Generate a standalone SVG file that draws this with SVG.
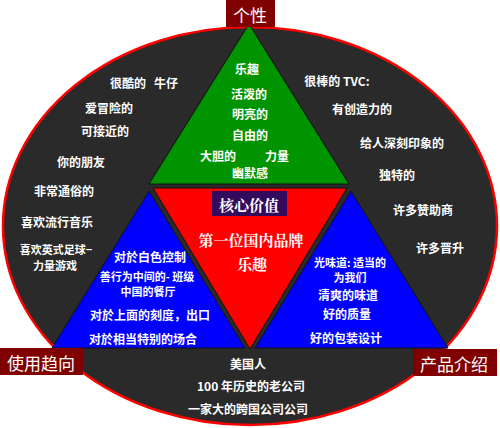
<svg xmlns="http://www.w3.org/2000/svg" width="500" height="428" viewBox="0 0 500 428">
<style>
.t{font-family:"Noto Sans CJK SC","Liberation Sans",sans-serif;font-size:12px;font-weight:bold;fill:#fff;text-anchor:middle;dominant-baseline:central}
.s{font-size:11px}
.lb{font-family:"Noto Sans CJK SC","Liberation Sans",sans-serif;font-size:17px;fill:#fff;text-anchor:middle;dominant-baseline:central}
.core{font-family:"Noto Serif CJK SC","Noto Sans CJK SC","Liberation Serif",serif;font-size:15px;font-weight:bold;fill:#fff;text-anchor:middle;dominant-baseline:central}
.tri{stroke:#111;stroke-width:1}
.box{fill:#800000}
</style>
<rect width="500" height="428" fill="#fff"/>
<g id="ellipse">
<ellipse cx="250" cy="226" rx="247" ry="199" fill="#2a2a2a" stroke="#f00" stroke-width="2.5"/>
</g>
<g id="green">
<polygon class="tri" points="249,24 149,184 349,184" fill="#009400"/>
<text class="t" x="247" y="68">乐趣</text>
<text class="t" x="249" y="93">活泼的</text>
<text class="t" x="250" y="113">明亮的</text>
<text class="t" x="250" y="134">自由的</text>
<text class="t" x="218" y="155">大胆的</text>
<text class="t" x="277" y="155">力量</text>
<text class="t" x="250" y="172">幽默感</text>
</g>
<g id="core">
<polygon class="tri" points="153,188 347,188 250,349" fill="#f00"/>
<rect x="212" y="191" width="75" height="25" fill="#330a5c"/>
<text class="core" x="249" y="204">核心价值</text>
<text class="core" x="251" y="239">第一位国内品牌</text>
<text class="core" x="252" y="263">乐趣</text>
</g>
<g id="usage">
<polygon class="tri" points="149,191 245,348 52,348" fill="#00f"/>
<text class="t" x="150" y="256">对於白色控制</text>
<text class="t s" x="147" y="276">善行为中间的- 班级</text>
<text class="t s" x="148" y="291">中国的餐厅</text>
<text class="t" x="150" y="314">对於上面的刻度，出口</text>
<text class="t" x="143" y="338">对於相当特别的场合</text>
</g>
<g id="product">
<polygon class="tri" points="351,191 448,348 255,348" fill="#00f"/>
<text class="t s" x="350" y="262">光味道: 适当的</text>
<text class="t s" x="350" y="277">为我们</text>
<text class="t" x="348" y="294">清爽的味道</text>
<text class="t" x="347" y="313">好的质量</text>
<text class="t" x="346" y="337">好的包装设计</text>
</g>
<g id="personality-texts">
<text class="t" x="128" y="82">很酷的</text>
<text class="t" x="166" y="82">牛仔</text>
<text class="t" x="109" y="107">爱冒险的</text>
<text class="t" x="105" y="130">可接近的</text>
<text class="t" x="81" y="161">你的朋友</text>
<text class="t" x="64" y="190">非常通俗的</text>
<text class="t" x="57" y="221">喜欢流行音乐</text>
<text class="t s" x="56" y="249">喜欢英式足球−</text>
<text class="t s" x="55" y="265">力量游戏</text>
</g>
<g id="product-texts">
<text class="t" x="337" y="80">很棒的 TVC:</text>
<text class="t" x="362" y="108">有创造力的</text>
<text class="t" x="402" y="142">给人深刻印象的</text>
<text class="t" x="397" y="174">独特的</text>
<text class="t" x="423" y="209">许多赞助商</text>
<text class="t" x="440" y="247">许多晋升</text>
</g>
<g id="company-texts">
<text class="t" x="248" y="363">美国人</text>
<text class="t" x="251" y="385">100 年历史的老公司</text>
<text class="t" x="248" y="408">一家大的跨国公司公司</text>
</g>
<g id="label-personality">
<rect class="box" x="226" y="0" width="49" height="27"/>
<text class="lb" x="250" y="14">个性</text>
</g>
<g id="label-usage">
<rect class="box" x="0" y="348" width="83" height="27"/>
<text class="lb" x="41" y="362">使用趋向</text>
</g>
<g id="label-product">
<rect class="box" x="413" y="349" width="84" height="27"/>
<text class="lb" x="454" y="363">产品介绍</text>
</g>
<g id="connectors"></g>
</svg>
